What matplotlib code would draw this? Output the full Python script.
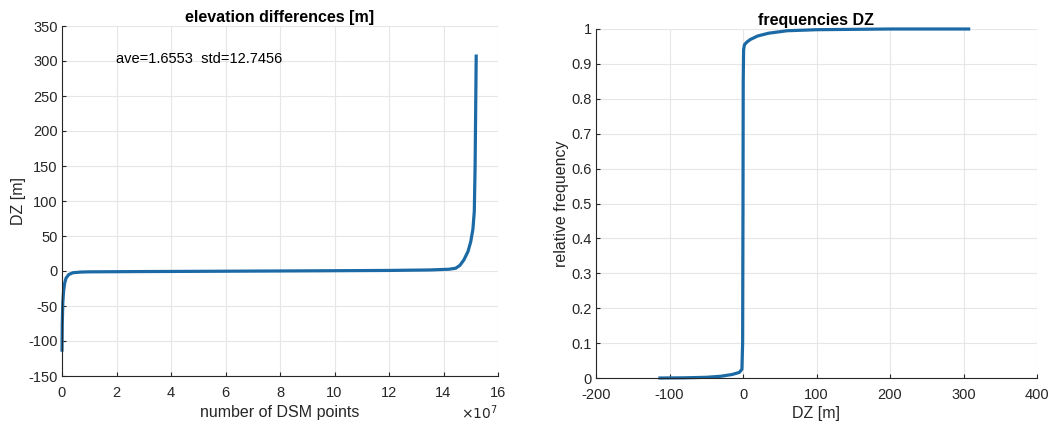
import matplotlib.pyplot as plt
import numpy as np

plt.rcParams['font.family'] = ['Liberation Sans', 'DejaVu Sans']
plt.rcParams['axes.unicode_minus'] = False

# sorted elevation differences (x in units of 1e7 points)
idx_points = [0.0, 0.01, 0.03, 0.06, 0.1, 0.15, 0.25, 0.4, 0.7, 1.0, 3.0, 6.0, 9.0,
              12.0, 13.5, 14.2, 14.45, 14.6, 14.75, 14.9, 15.0, 15.08, 15.13, 15.16, 15.2]
dz_sorted = [-113, -75, -45, -28, -17, -10, -5, -2.5, -1.5, -1.2, -0.8, -0.3, 0.2,
             0.8, 1.5, 2.5, 4, 8, 16, 28, 42, 60, 85, 150, 307]

# cumulative relative frequency of DZ
dz_values = [-113, -80, -50, -30, -15, -5, -1.5, -0.5, 0.0, 0.3, 0.8, 2, 5, 10, 20,
             35, 60, 100, 200, 307]
rel_freq = [0.0, 0.0005, 0.002, 0.005, 0.01, 0.016, 0.025, 0.1, 0.5, 0.85, 0.94, 0.955,
            0.962, 0.97, 0.98, 0.988, 0.995, 0.998, 1.0, 1.0]

stats_text = 'ave=1.6553  std=12.7456'
line_color = '#1b6aa5'

fig = plt.figure(figsize=(10.54, 4.25), dpi=100)
ax1 = fig.add_axes([62 / 1054, 1 - 376 / 425, 436 / 1054, 350 / 425])
ax2 = fig.add_axes([596 / 1054, 1 - 378 / 425, 441 / 1054, 349 / 425])

for ax in (ax1, ax2):
    ax.grid(True, color='#e6e6e6', linewidth=0.8)
    ax.set_axisbelow(True)
    for s in ('top', 'right'):
        ax.spines[s].set_visible(False)
    for s in ('left', 'bottom'):
        ax.spines[s].set_color('#262626')
        ax.spines[s].set_linewidth(0.8)
    ax.tick_params(direction='in', length=3, labelsize=10.5, colors='#262626')
    ax.tick_params(axis='x', pad=7)
    ax.tick_params(axis='y', pad=3)

# left: sorted DZ
ax1.plot(idx_points, dz_sorted, color=line_color, linewidth=2.3, clip_on=False)
ax1.set_xlim(0, 16)
ax1.set_ylim(-150, 350)
ax1.set_xticks(np.arange(0, 17, 2))
ax1.set_yticks(np.arange(-150, 351, 50))
ax1.set_title('elevation differences [m]', fontsize=11.5, fontweight='bold', pad=3)
ax1.set_xlabel('number of DSM points', fontsize=11.5, color='#262626', labelpad=4)
ax1.set_ylabel('DZ [m]', fontsize=11.5, color='#262626', labelpad=2)
ax1.text(0.125, 0.895, stats_text, transform=ax1.transAxes, fontsize=10.5)
ax1.text(1.0, -0.105, r'$\times10^7$', transform=ax1.transAxes, fontsize=10,
         ha='right', va='center', color='#262626')

# right: frequencies
ax2.plot(dz_values, rel_freq, color=line_color, linewidth=2.3, clip_on=False)
ax2.set_xlim(-200, 400)
ax2.set_ylim(0, 1)
ax2.set_xticks(np.arange(-200, 401, 100))
ax2.set_yticks(np.arange(0, 1.01, 0.1))
ax2.set_yticklabels(['0', '0.1', '0.2', '0.3', '0.4', '0.5', '0.6', '0.7', '0.8', '0.9', '1'])
ax2.set_title('frequencies DZ', fontsize=11.5, fontweight='bold', pad=3)
ax2.set_xlabel('DZ [m]', fontsize=11.5, color='#262626', labelpad=3)
ax2.set_ylabel('relative frequency', fontsize=11.5, color='#262626', labelpad=2)

fig.savefig('out.png', dpi=100)
